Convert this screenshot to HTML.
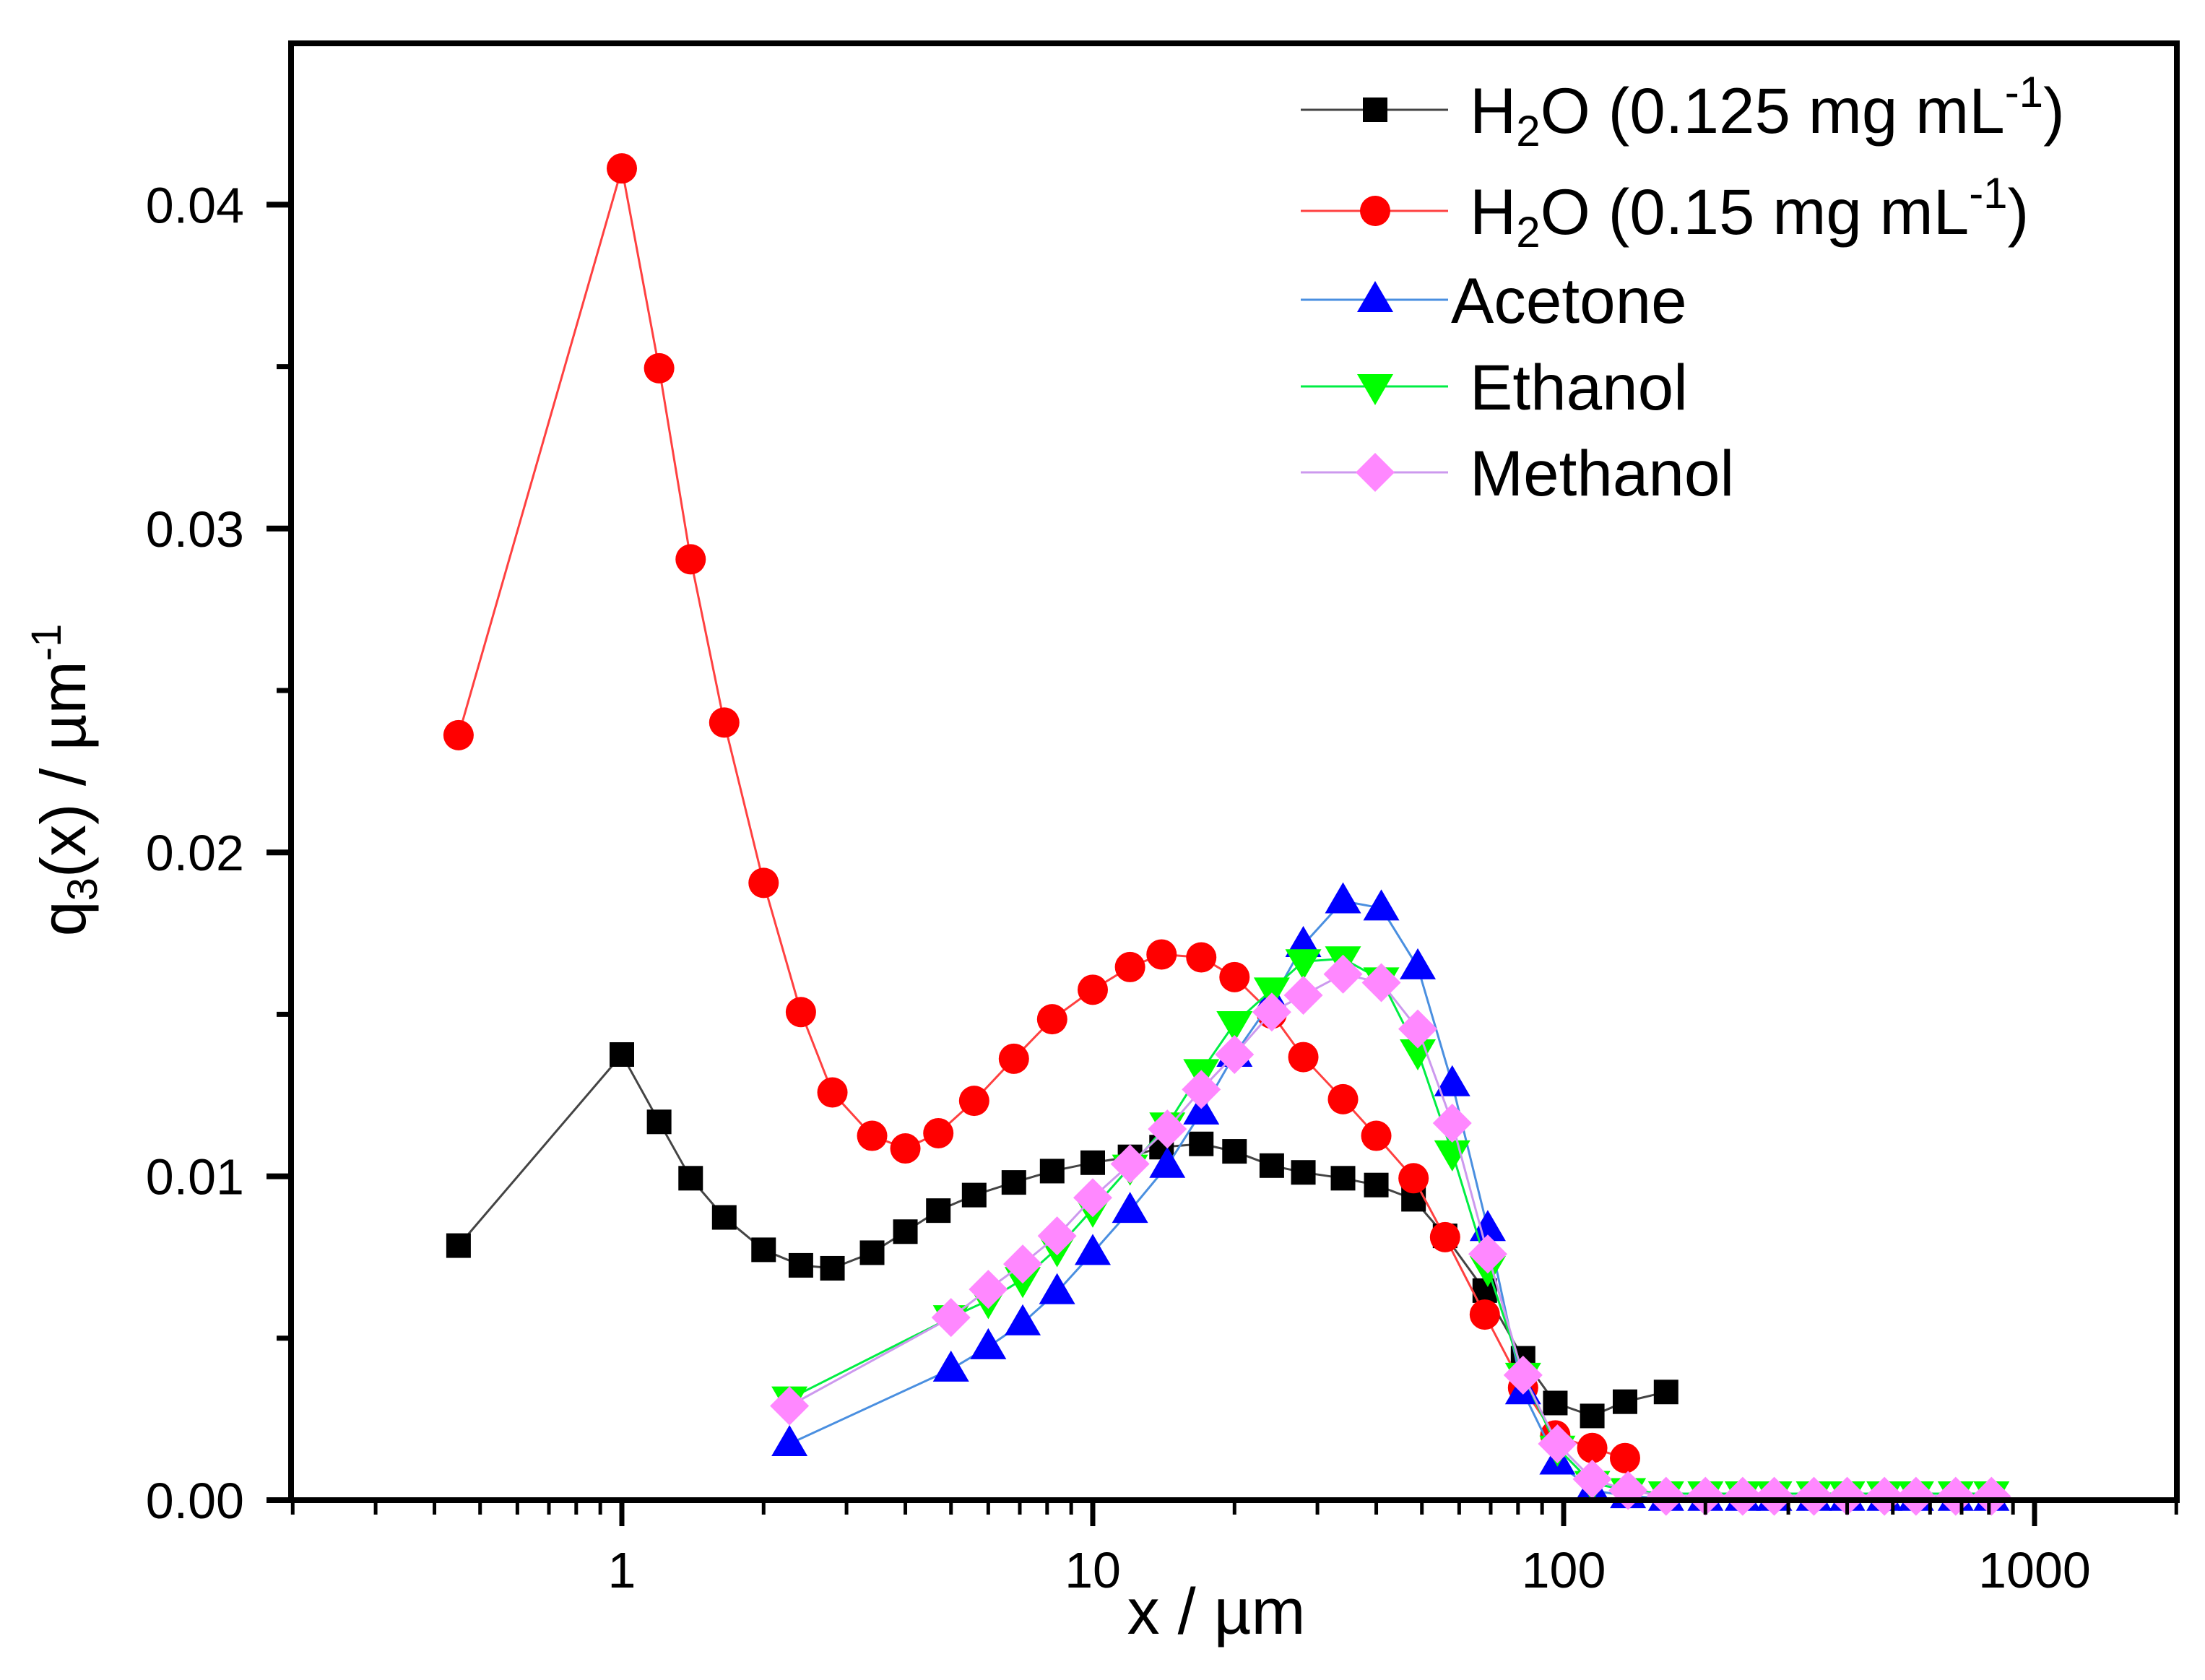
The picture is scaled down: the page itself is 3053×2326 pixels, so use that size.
<!DOCTYPE html>
<html><head><meta charset="utf-8"><style>
html,body{margin:0;padding:0;background:#fff;}
svg{display:block;font-family:"Liberation Sans",Arial,sans-serif;}
</style></head><body>
<svg id="chart" width="3053" height="2326" viewBox="0 0 3053 2326" xmlns="http://www.w3.org/2000/svg">
<rect x="0" y="0" width="3053" height="2326" fill="#fff"/>
<g id="plot"></g>
<g id="axes"></g>
<g id="legend"></g>
<text x="1684" y="2262" font-size="90" text-anchor="middle">x / µm</text>
<text transform="translate(118,1080) rotate(-90)" font-size="88" text-anchor="middle">q<tspan font-size="58" dy="16">3</tspan><tspan dy="-16">(x) / µm</tspan><tspan font-size="58" dy="-34">-1</tspan></text>
</svg>
<script>
const xBlack = [0.45,1,1.2,1.4,1.65,2,2.4,2.8,3.4,4,4.7,5.6,6.8,8.2,10,12,14,17,20,24,28,34,40,48,56,68,82,96,115,135,165];
const yBlack = [0.00786,0.01376,0.01168,0.00994,0.00873,0.00773,0.00725,0.00716,0.00764,0.00829,0.00894,0.00942,0.00981,0.01016,0.01042,0.0106,0.0109,0.0110,0.01077,0.01033,0.01012,0.00994,0.00973,0.00929,0.00816,0.00647,0.00438,0.0030,0.0026,0.00304,0.00334];
const xRed = [0.45,1,1.2,1.4,1.65,2,2.4,2.8,3.4,4,4.7,5.6,6.8,8.2,10,12,14,17,20,24,28,34,40,48,56,68,82,96,115,135];
const yRed = [0.02362,0.04112,0.03495,0.02905,0.02401,0.01906,0.01507,0.01259,0.01125,0.01086,0.01133,0.01233,0.01363,0.01485,0.01576,0.01646,0.01685,0.01676,0.01615,0.01502,0.01368,0.01238,0.01125,0.00994,0.00812,0.00573,0.00347,0.0020,0.00161,0.0013];
const xSolv = [2.27,5,6,7.1,8.4,10,12,14.4,17,20,24,28,34,41,49,58,69,82,97,115,137,165,200,240,280,340,400,480,560,680,810];
const yAcetone = [0.00174,0.00404,0.00473,0.00547,0.00643,0.00764,0.00894,0.01033,0.01198,0.01376,0.01541,0.01715,0.0185,0.01828,0.01646,0.01285,0.00838,0.00334,0.00117,0.0003,0.00013,0.00005,0.00005,0.00005,0.00005,0.00005,0.00005,0.00005,0.00005,0.00005,0.00005];
const yEthanol = [0.00313,0.00564,0.00617,0.00682,0.00777,0.00899,0.01029,0.01159,0.01324,0.01472,0.01576,0.01663,0.01672,0.01607,0.01385,0.01073,0.00716,0.00386,0.00161,0.00052,0.0003,0.0002,0.0002,0.0002,0.0002,0.0002,0.0002,0.0002,0.0002,0.0002,0.0002];
const yMethanol = [0.00291,0.00564,0.00651,0.00729,0.00816,0.00934,0.01038,0.01146,0.01268,0.01376,0.01507,0.01559,0.01624,0.01598,0.01455,0.01164,0.0076,0.00386,0.00174,0.00065,0.0003,0.00012,0.00012,0.00012,0.00012,0.00012,0.00012,0.00012,0.00012,0.00012,0.00012];
const yTicks = [0, 0.01, 0.02, 0.03, 0.04];
const yTickLabels = ["0.00","0.01","0.02","0.03","0.04"];
const xTicks = [1, 10, 100, 1000];
const xTickLabels = ["1","10","100","1000"];

const NS = "http://www.w3.org/2000/svg";
const L = 403, R = 3014, T = 60, B = 2077;
function sx(v){ return 861 + Math.log10(v) * 652; }
function sy(v){ return B - v / 0.01 * 448.4; }
function mk(tag, attrs, parent){
  const e = document.createElementNS(NS, tag);
  for (const k in attrs) e.setAttribute(k, attrs[k]);
  parent.appendChild(e); return e;
}
const plot = document.getElementById('plot');
const axes = document.getElementById('axes');

function marker(shape, cx, cy, fill, parent){
  let e;
  if (shape === 'square') e = mk('rect', {x:cx-17, y:cy-17, width:34, height:34, fill:fill}, parent);
  else if (shape === 'circle') e = mk('circle', {cx:cx, cy:cy, r:21, fill:fill}, parent);
  else if (shape === 'up') e = mk('polygon', {points:`${cx},${cy-26} ${cx+25},${cy+17} ${cx-25},${cy+17}`, fill:fill}, parent);
  else if (shape === 'down') e = mk('polygon', {points:`${cx},${cy+26} ${cx+25},${cy-17} ${cx-25},${cy-17}`, fill:fill}, parent);
  else e = mk('polygon', {points:`${cx},${cy-27} ${cx+27},${cy} ${cx},${cy+27} ${cx-27},${cy}`, fill:fill}, parent);
  return e;
}

const series = [
  {name:'h2o-0125', xs:xBlack, ys:yBlack, line:'#444', fill:'#000', shape:'square'},
  {name:'h2o-015', xs:xRed, ys:yRed, line:'#ff4040', fill:'#ff0000', shape:'circle'},
  {name:'acetone', xs:xSolv, ys:yAcetone, line:'#4a8fe0', fill:'#0000ff', shape:'up'},
  {name:'ethanol', xs:xSolv, ys:yEthanol, line:'#00ee44', fill:'#00ff00', shape:'down'},
  {name:'methanol', xs:xSolv, ys:yMethanol, line:'#cc99ee', fill:'#ff88ff', shape:'diamond'}
];
series.forEach(s => {
  const g = mk('g', {}, plot);
  
  
  const pts = s.xs.map((x,i) => sx(x).toFixed(1) + ',' + sy(s.ys[i]).toFixed(1)).join(' ');
  const pl = mk('polyline', {points:pts, fill:'none', stroke:s.line, 'stroke-width':3}, g);
  
  
  s.xs.forEach((x,i) => {
    const m = marker(s.shape, sx(x), sy(s.ys[i]), s.fill, g);
    
    
  });
});

const frame = mk('rect', {x:L, y:T, width:R-L, height:B-T, fill:'none', stroke:'#000', 'stroke-width':8}, axes);


yTicks.forEach((v,i) => {
  const y = sy(v);
  const t = mk('line', {x1:L-34, y1:y, x2:L, y2:y, stroke:'#000', 'stroke-width':8}, axes);
  
  
  const lb = mk('text', {x:338, y:y+25, 'font-size':70, 'text-anchor':'end'}, axes);
  lb.textContent = yTickLabels[i];
  
  
  const mv = v + 0.005;
  if (sy(mv) > T) {
    const m = mk('line', {x1:L-20, y1:sy(mv), x2:L, y2:sy(mv), stroke:'#000', 'stroke-width':7}, axes);
    
    
  }
});
for (let d = 0.1; d < 2000; d *= 10) {
  for (let k = 1; k < 10; k++) {
    const v = d * k;
    const x = sx(v);
    if (x < L || x > R) continue;
    const major = (k === 1);
    const t = mk('line', {x1:x, y1:B, x2:x, y2:B + (major ? 36 : 20), stroke:'#000', 'stroke-width':major ? 7 : 5}, axes);
    
    
  }
}
xTicks.forEach((v,i) => {
  const lb = mk('text', {x:sx(v), y:2198, 'font-size':70, 'text-anchor':'middle'}, axes);
  lb.textContent = xTickLabels[i];
  
  
});

const leg = document.getElementById('legend');
const legRows = [152, 292, 415, 535, 654];
series.forEach((s,i) => {
  const y = legRows[i];
  const g = mk('g', {}, leg);
  
  
  mk('line', {x1:1801, y1:y, x2:2005, y2:y, stroke:s.line, 'stroke-width':3}, g);
  marker(s.shape, 1904, y, s.fill, g);
  const tx = mk('text', {x: i === 2 ? 2009 : 2035, y:y+32, 'font-size':89}, g);
  if (i === 0) tx.innerHTML = 'H<tspan font-size="60" dy="18">2</tspan><tspan dy="-18">O (0.125 mg mL</tspan><tspan font-size="60" dy="-36">-1</tspan><tspan dy="36">)</tspan>';
  else if (i === 1) tx.innerHTML = 'H<tspan font-size="60" dy="18">2</tspan><tspan dy="-18">O (0.15 mg mL</tspan><tspan font-size="60" dy="-36">-1</tspan><tspan dy="36">)</tspan>';
  else tx.textContent = ['','','Acetone','Ethanol','Methanol'][i];
});
</script>
</body></html>
